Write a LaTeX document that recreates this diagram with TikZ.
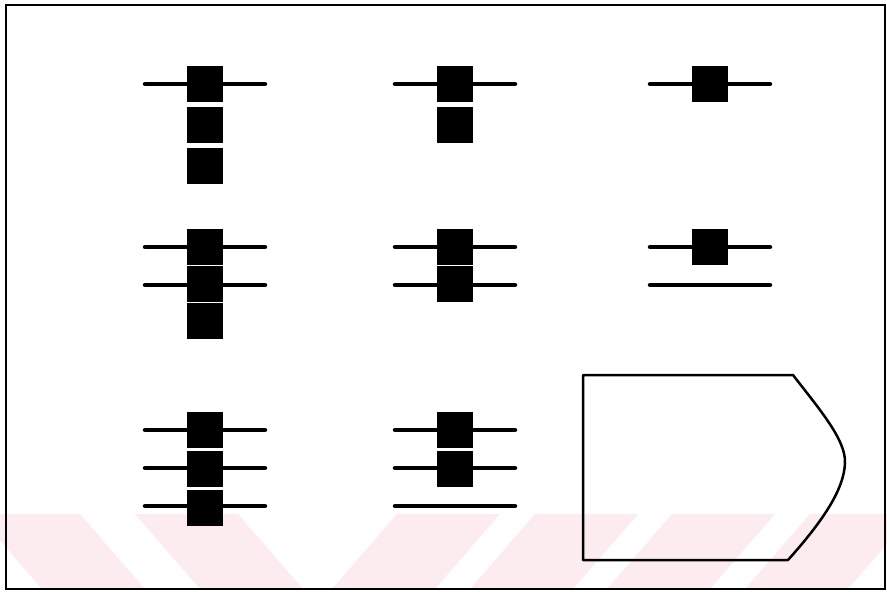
\documentclass[tikz,border=0pt]{standalone}
\usepackage{tikz}
\definecolor{wmark}{HTML}{FCECEF}

\begin{document}
\begin{tikzpicture}[
  x=1pt, y=-1pt,
  pad/.style={rectangle, fill=black, inner sep=0pt, minimum width=36pt, minimum height=36pt},
  lead/.style={line width=4.5pt, line cap=round},
  frame/.style={line width=2pt},
  outline/.style={line width=2.5pt, line join=round}
]

\useasboundingbox (0,0) rectangle (887,592);

% Watermark band
\begin{scope}
  \clip (0,514) rectangle (887,589);
  \foreach \x in {-23,135}
    \fill[wmark] (\x,514) -- ++(103,0) -- ++(65,75) -- ++(-103,0) -- cycle;
  \foreach \x in {397,535,672,810}
    \fill[wmark] (\x,514) -- ++(103,0) -- ++(-65,75) -- ++(-103,0) -- cycle;
\end{scope}

% Frame
\draw[frame] (6,5) rectangle (885,589);

% Pads on leads, one cell per column and row
\foreach \c/\cx in {1/205, 2/455, 3/710}
  \foreach \r/\ry/\gap in {1/84/41, 2/247/37, 3/430/39} {
    \ifnum\c\r=33 \else
      \pgfmathtruncatemacro{\npad}{4-\c}
      \foreach \k in {1,...,\r} {
        \coordinate (w-\c-\r-\k) at (\cx-60, \ry+38*\k-38);
        \coordinate (e-\c-\r-\k) at (\cx+60, \ry+38*\k-38);
        \draw[lead] (w-\c-\r-\k) -- (e-\c-\r-\k);
      }
      \foreach \k in {1,...,\npad}
        \node[pad] (p-\c-\r-\k) at (\cx, \ry+\gap*\k-\gap) {};
    \fi
  }

% Outline
\coordinate (ol-a) at (583,375);
\coordinate (ol-b) at (793,375);
\coordinate (ol-c) at (845,463);
\coordinate (ol-e) at (788,560);
\coordinate (ol-f) at (583,560);
\draw[outline] (ol-a) -- (ol-b)
  .. controls (820,410) and (846,440) .. (ol-c)
  .. controls (844,490) and (822,522) .. (ol-e) -- (ol-f) -- cycle;

\end{tikzpicture}
\end{document}
